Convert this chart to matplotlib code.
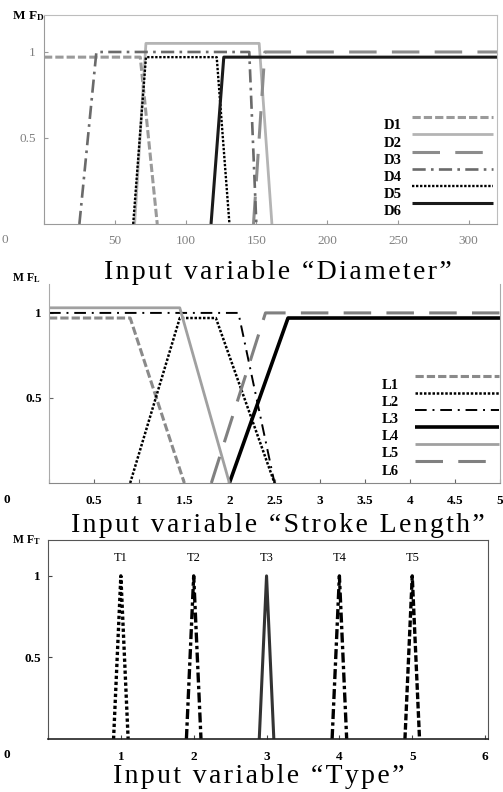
import matplotlib
matplotlib.use('Agg')
from matplotlib import pyplot as plt
from matplotlib.transforms import Affine2D

plt.rcParams['font.family'] = ['Liberation Serif', 'DejaVu Serif']
plt.rcParams['mathtext.fontset'] = 'custom'
plt.rcParams['mathtext.rm'] = 'Liberation Serif'
plt.rcParams['mathtext.bf'] = 'Liberation Serif:bold'

# Membership functions for "Diameter"
diam_labels = ['D1', 'D2', 'D3', 'D4', 'D5', 'D6']
diam_x = [[0, 68, 80], [64, 72, 152, 161], [148, 156, 320],
          [25, 37, 145, 150], [63, 72, 122, 131], [118, 127, 320]]
diam_y = [[0.97, 0.97, 0], [0, 1.05, 1.05, 0], [0, 1, 1],
          [0, 1, 1, 0], [0, 0.97, 0.97, 0], [0, 0.97, 0.97]]
diam_ticks = [0, 50, 100, 150, 200, 250, 300]

# Membership functions for "Stroke Length"
len_labels = ['L1', 'L2', 'L3', 'L4', 'L5', 'L6']
len_x = [[0, 0.9, 1.5], [0.9, 1.45, 1.85, 2.5], [0, 2.1, 2.5],
         [2, 2.65, 5], [0, 1.45, 2], [1.8, 2.4, 5]]
len_y = [[0.97, 0.97, 0], [0, 0.97, 0.97, 0], [1, 1, 0],
         [0, 0.97, 0.97], [1.03, 1.03, 0], [0, 1, 1]]
len_ticks = [0, 0.5, 1, 1.5, 2, 2.5, 3, 3.5, 4, 4.5, 5]

# Membership functions for "Type"
type_labels = ['T1', 'T2', 'T3', 'T4', 'T5']
type_x = [[0.9, 1, 1.1], [1.9, 2, 2.1], [2.9, 3, 3.1], [3.9, 4, 4.1], [4.9, 5, 5.1]]
type_y = [[0, 1, 0], [0, 1, 0], [0, 1, 0], [0, 1, 0], [0, 1, 0]]
type_ticks = [0, 1, 2, 3, 4, 5, 6]

yticks = [0.5, 1]

# line styles
diam_styles = [dict(color='#9a9a9a', lw=2.2, dashes=(2.7, 1)),
               dict(color='#b4b4b4', lw=2.0),
               dict(color='#8c8c8c', lw=2.2, dashes=(9, 5)),
               dict(color='#6a6a6a', lw=1.9, dashes=(5, 2, 1, 2)),
               dict(color='black', lw=1.7, dashes=(1, 0.7)),
               dict(color='#1a1a1a', lw=2.2)]
len_styles = [dict(color='#8a8a8a', lw=2.2, dashes=(2.7, 1)),
              dict(color='black', lw=1.8, dashes=(1, 0.7)),
              dict(color='black', lw=1.4, dashes=(6, 3, 1, 3)),
              dict(color='black', lw=2.6),
              dict(color='#a0a0a0', lw=2.0),
              dict(color='#808080', lw=2.2, dashes=(9, 5))]
type_styles = [dict(color='black', lw=2.4, dashes=(1, 0.8)),
               dict(color='black', lw=2.4, dashes=(3, 1, 1, 1)),
               dict(color='#333333', lw=2.2),
               dict(color='black', lw=2.4, dashes=(3, 1, 1, 1)),
               dict(color='black', lw=2.4, dashes=(2, 0.8))]

W, H = 503, 792
fig = plt.figure(figsize=(W / 100, H / 100), dpi=100)


def px_axes(l, t, r, b):
    return fig.add_axes([l / W, 1 - b / H, (r - l) / W, (b - t) / H])


def shift_legend_text(leg, dy):
    for t in leg.get_texts():
        t.set_transform(t.get_transform() + Affine2D().translate(0, dy))


legend_font = dict(family='Liberation Serif', weight='bold', size=10.5)

# ---- Panel 1: Diameter ----
ax1 = px_axes(44, 15, 497, 224)
for xs, ys, lab, st in zip(diam_x, diam_y, diam_labels, diam_styles):
    ax1.plot(xs, ys, label=lab, solid_capstyle='butt', **st)
ax1.set_xlim(0, 320)
ax1.set_ylim(0, 1.215)
ax1.set_xticks(diam_ticks)
ax1.set_xticklabels([''] + [str(t) for t in diam_ticks[1:]])
ax1.set_yticks(yticks)
ax1.set_yticklabels(['0.5', '1'])
ax1.tick_params(direction='in', length=3, width=0.8, color='#999999',
                labelcolor='#808080', labelsize=9.5)
ax1.tick_params(axis='x', pad=8)
ax1.tick_params(axis='y', pad=6)
for s in ['top', 'right']:
    ax1.spines[s].set_color('#bdbdbd')
for s in ['left', 'bottom']:
    ax1.spines[s].set_color('#9a9a9a')
leg1 = ax1.legend(loc='upper right', bbox_to_anchor=(0.992, 0.535), frameon=False,
                  markerfirst=False, handlelength=5.6, handletextpad=0.7,
                  labelspacing=0.27, borderpad=0, borderaxespad=0,
                  prop=legend_font)
shift_legend_text(leg1, -7)
fig.text(2 / W, 1 - 240 / H, '0', color='#808080', fontsize=9.5, va='center', ha='left')
fig.text(12 / W, 1 - 19 / H, r'$\mathbf{M\;F_D}$', fontsize=9.5, va='baseline', ha='left')

# ---- Panel 2: Stroke Length ----
ax2 = px_axes(49, 284, 500, 483)
for xs, ys, lab, st in zip(len_x, len_y, len_labels, len_styles):
    ax2.plot(xs, ys, label=lab, solid_capstyle='butt', **st)
ax2.set_xlim(0, 5)
ax2.set_ylim(0, 1.17)
ax2.set_xticks(len_ticks)
ax2.set_xticklabels([''] + ['%g' % t for t in len_ticks[1:]])
ax2.set_yticks(yticks)
ax2.set_yticklabels(['0.5', '1'])
ax2.tick_params(direction='in', length=3, width=0.8, color='#666666',
                labelsize=9.5)
for lbl in ax2.get_xticklabels() + ax2.get_yticklabels():
    lbl.set_fontweight('bold')
ax2.tick_params(axis='x', pad=9)
ax2.tick_params(axis='y', pad=5)
ax2.spines['top'].set_visible(False)
ax2.spines['right'].set_color('#aaaaaa')
ax2.spines['left'].set_color('#aaaaaa')
ax2.spines['bottom'].set_color('#888888')
leg2 = ax2.legend(loc='upper right', bbox_to_anchor=(0.998, 0.565), frameon=False,
                  markerfirst=False, handlelength=5.8, handletextpad=1.1,
                  labelspacing=0.27, borderpad=0, borderaxespad=0,
                  prop=legend_font)
shift_legend_text(leg2, -8)
fig.text(4 / W, 1 - 500 / H, '0', fontsize=9.5, fontweight='bold', va='center', ha='left')
fig.text(12 / W, 1 - 281 / H, r'$\mathbf{M\;F_L}$', fontsize=8.5, va='baseline', ha='left')

# ---- Panel 3: Type ----
ax3 = px_axes(48, 540, 488, 739)
for xs, ys, lab, st in zip(type_x, type_y, type_labels, type_styles):
    ax3.plot(xs, ys, solid_capstyle='butt', **st)
    ax3.text(xs[1], 1.07, lab, ha='center', va='bottom', fontsize=9)
ax3.set_xlim(0, 6.04)
ax3.set_ylim(0, 1.22)
ax3.set_xticks(type_ticks)
ax3.set_xticklabels([''] + [str(t) for t in type_ticks[1:]])
ax3.set_yticks(yticks)
ax3.set_yticklabels(['0.5', '1'])
ax3.tick_params(direction='in', length=3, width=0.8, color='#444444', labelsize=9.5)
for lbl in ax3.get_xticklabels() + ax3.get_yticklabels():
    lbl.set_fontweight('bold')
ax3.tick_params(axis='x', pad=9)
ax3.tick_params(axis='y', pad=5)
for s in ax3.spines.values():
    s.set_color('#555555')
ax3.spines['bottom'].set_color('#222222')
ax3.spines['bottom'].set_linewidth(1.2)
fig.text(4 / W, 1 - 755 / H, '0', fontsize=9.5, fontweight='bold', va='center', ha='left')
fig.text(12 / W, 1 - 543 / H, r'$\mathbf{M\;F_T}$', fontsize=8.5, va='baseline', ha='left')


# ---- Axis captions (letter-spaced) ----
def spaced(s):
    return '\u200a'.join(s)


fig.text(278 / W, 1 - 279 / H, spaced('Input variable \u201cDiameter\u201d'),
         fontsize=20, ha='center', va='baseline')
fig.text(278 / W, 1 - 532 / H, spaced('Input variable \u201cStroke Length\u201d'),
         fontsize=20, ha='center', va='baseline')
fig.text(259 / W, 1 - 783 / H, spaced('Input variable \u201cType\u201d'),
         fontsize=20, ha='center', va='baseline')

fig.savefig('out.png', dpi=100)
